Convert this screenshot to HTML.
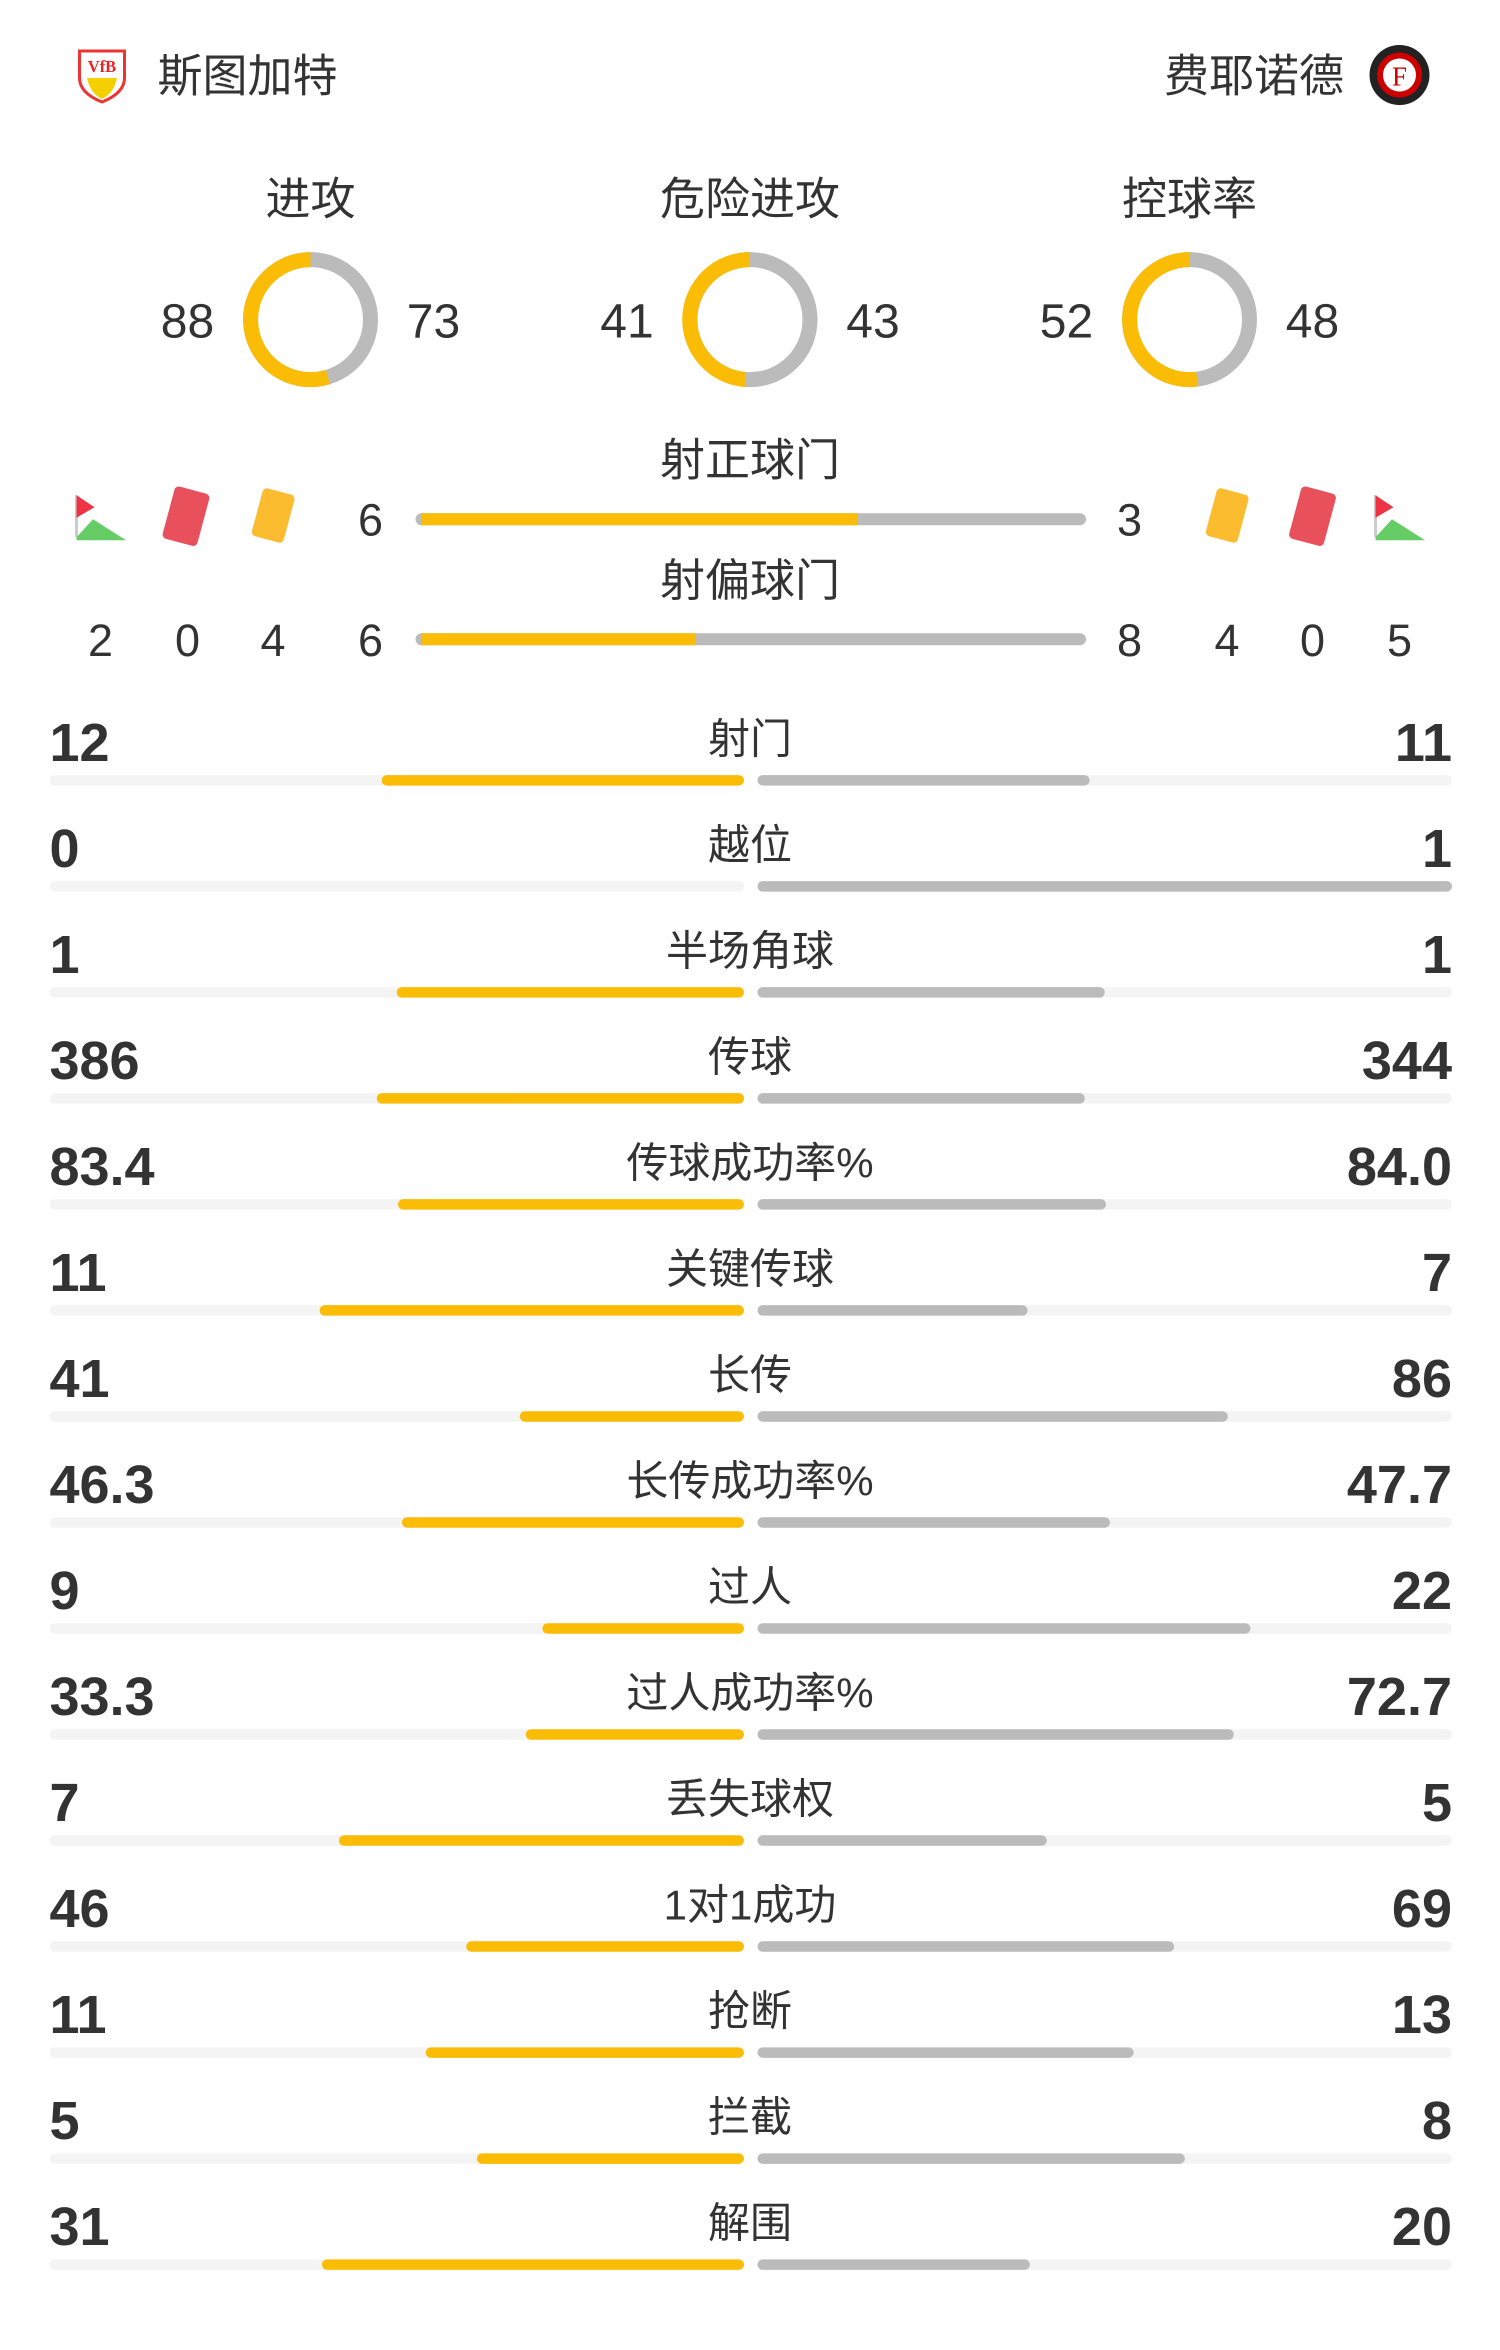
<!DOCTYPE html>
<html><head><meta charset="utf-8"><style>
html,body{margin:0;padding:0;background:#fff;}
svg{display:block}
.n{font-family:"Liberation Sans",sans-serif;font-weight:bold;font-size:36px;fill:#333}
.l{font-family:"Liberation Sans","Noto Sans CJK SC",sans-serif;font-size:28px;fill:#333}
.t{font-family:"Liberation Sans","Noto Sans CJK SC",sans-serif;font-size:30px;fill:#333}
.m{font-family:"Liberation Sans",sans-serif;font-size:32px;fill:#333}
</style></head><body>
<svg width="1500" height="2350" viewBox="0 0 1000 1566" preserveAspectRatio="none" xmlns="http://www.w3.org/2000/svg">
<path d="M53 34 H83 V52 Q83 62 68 68 Q53 62 53 52 Z" fill="#fff" stroke="#e33" stroke-width="2"/>
<text x="68" y="48" font-size="11" font-weight="bold" fill="#e22" text-anchor="middle" font-family="Liberation Serif">VfB</text>
<path d="M58 52 H78 Q76 62 68 66 Q60 62 58 52Z" fill="#f5d000"/>
<text x="105" y="61" class="t">斯图加特</text>
<text x="896" y="61" class="t" text-anchor="end">费耶诺德</text>
<circle cx="933" cy="50" r="20" fill="#222"/><circle cx="933" cy="50" r="15" fill="#c00"/><circle cx="933" cy="50" r="11" fill="#fff"/>
<text x="933" y="57" font-size="18" fill="#c00" text-anchor="middle" font-family="Liberation Serif">F</text>
<g class="t" text-anchor="middle"><text x="207" y="143">进攻</text><text x="500" y="143">危险进攻</text><text x="793" y="143">控球率</text></g>
<g class="m" text-anchor="middle">
<text x="125" y="225">88</text><text x="289" y="225">73</text>
<text x="418" y="225">41</text><text x="582" y="225">43</text>
<text x="711" y="225">52</text><text x="875" y="225">48</text></g>
<g fill="none" stroke-width="10">
<circle cx="207" cy="213" r="40" stroke="#bbb"/>
<path d="M207 173 A40 40 0 1 0 218.6 251.3" stroke="#fbbc05"/>
<circle cx="500" cy="213" r="40" stroke="#bbb"/>
<path d="M500 173 A40 40 0 0 0 497 252.9" stroke="#fbbc05"/>
<circle cx="793" cy="213" r="40" stroke="#bbb"/>
<path d="M793 173 A40 40 0 1 0 798 252.7" stroke="#fbbc05"/>
</g>
<g class="t" text-anchor="middle"><text x="500" y="317">射正球门</text><text x="500" y="397">射偏球门</text></g>
<g class="m" text-anchor="middle" style="font-size:30px">
<text x="247" y="357">6</text><text x="753" y="357">3</text>
<text x="67" y="437">2</text><text x="125" y="437">0</text><text x="182" y="437">4</text><text x="247" y="437">6</text>
<text x="753" y="437">8</text><text x="818" y="437">4</text><text x="875" y="437">0</text><text x="933" y="437">5</text></g>
<g stroke-linecap="round" stroke-width="8">
<line x1="281" y1="346" x2="720" y2="346" stroke="#bbb"/><line x1="281" y1="346" x2="572" y2="346" stroke="#fbbc05" stroke-linecap="butt"/>
<line x1="281" y1="426" x2="720" y2="426" stroke="#bbb"/><line x1="281" y1="426" x2="464" y2="426" stroke="#fbbc05" stroke-linecap="butt"/>
</g>
<g id="flag"><path d="M51 330 L51 358" stroke="#ccc" stroke-width="2"/><path d="M51 330 L63 338 L51 345Z" fill="#e34"/><path d="M51 358 L62 346 L84 360 L51 360Z" fill="#6c6"/></g>
<rect x="112" y="326" width="24" height="36" rx="3" fill="#e8505b" transform="rotate(15 124 344)"/>
<rect x="171" y="327" width="22" height="33" rx="3" fill="#fbbc30" transform="rotate(15 182 344)"/>
<use href="#flag" transform="translate(866 0)"/>
<rect x="863" y="326" width="24" height="36" rx="3" fill="#e8505b" transform="rotate(15 875 344)"/>
<rect x="807" y="327" width="22" height="33" rx="3" fill="#fbbc30" transform="rotate(15 818 344)"/>
<g id="rows"></g>
</svg>
<script>
var d=[["12","射门","11"],["0","越位","1"],["1","半场角球","1"],["386","传球","344"],["83.4","传球成功率%","84.0"],["11","关键传球","7"],["41","长传","86"],["46.3","长传成功率%","47.7"],["9","过人","22"],["33.3","过人成功率%","72.7"],["7","丢失球权","5"],["46","1对1成功","69"],["11","抢断","13"],["5","拦截","8"],["31","解围","20"]];
var s="";
d.forEach(function(r,i){var y=494+70.65*i,b=520+70.65*i,a=parseFloat(r[0]),c=parseFloat(r[2]),t=a+c,W=463;
var wl=t?a/t*W:0,wr=t?c/t*W:0;
s+='<text class="n" x="33" y="'+(y+13)+'">'+r[0]+'</text><text class="n" x="968" y="'+(y+13)+'" text-anchor="end">'+r[2]+'</text>';
s+='<text class="l" x="500" y="'+(y+8)+'" text-anchor="middle">'+r[1]+'</text>';
s+='<rect x="33" y="'+(b-3.5)+'" width="463" height="7" rx="3.5" fill="#f4f4f4"/><rect x="505" y="'+(b-3.5)+'" width="463" height="7" rx="3.5" fill="#f4f4f4"/>';
if(wl>0)s+='<rect x="'+(496-wl)+'" y="'+(b-3.5)+'" width="'+wl+'" height="7" rx="3.5" fill="#fbbc05"/>';
if(wr>0)s+='<rect x="505" y="'+(b-3.5)+'" width="'+wr+'" height="7" rx="3.5" fill="#bbb"/>';});
document.getElementById("rows").innerHTML=s;
</script>
</body></html>
